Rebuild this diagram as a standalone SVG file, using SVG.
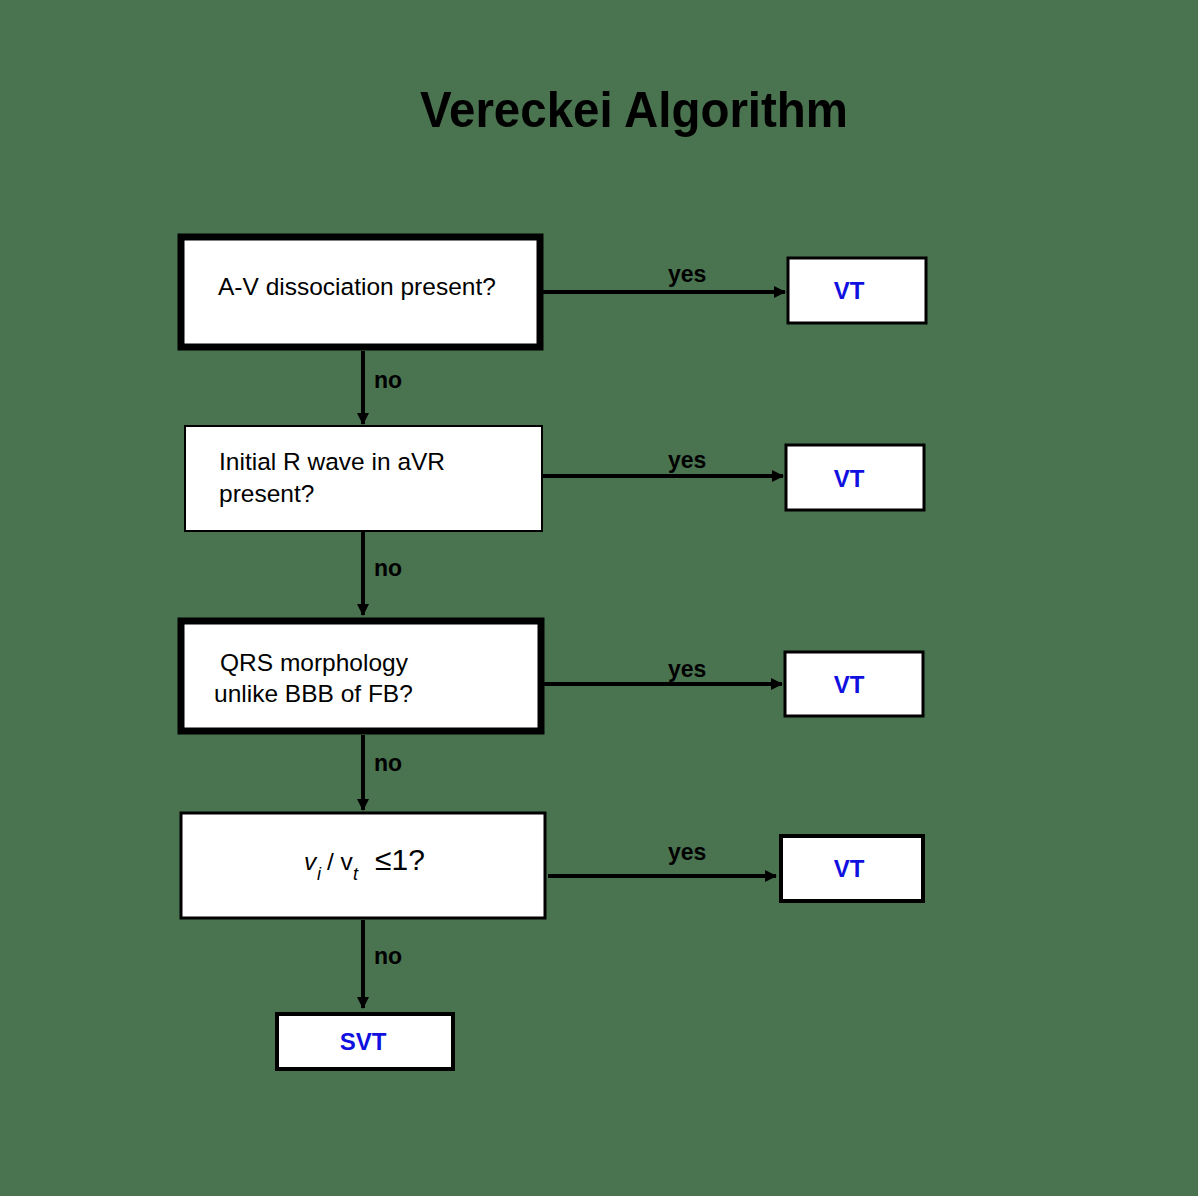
<svg xmlns="http://www.w3.org/2000/svg" width="1198" height="1196" viewBox="0 0 1198 1196">
<defs>
<marker id="ah" markerWidth="12" markerHeight="12" refX="11" refY="6" orient="auto" markerUnits="userSpaceOnUse">
<path d="M0,0 L12,6 L0,12 Z" fill="#000"/>
</marker>
<style>
.q{font-family:"Liberation Sans",Arial,sans-serif;font-size:24.5px;fill:#000}
.vt{font-family:"Liberation Sans",Arial,sans-serif;font-size:24px;font-weight:bold;fill:#1010e0;text-anchor:middle}
.lbl{font-family:"Liberation Sans",Arial,sans-serif;font-size:23px;font-weight:bold;fill:#000}
.box{fill:#fff;stroke:#000}
.c{stroke:#000;stroke-width:4;fill:none}
</style>
</defs>
<rect width="1198" height="1196" fill="#4a7350"/>
<text x="420" y="127" font-family="Liberation Sans,Arial,sans-serif" font-size="50" font-weight="bold" textLength="428" lengthAdjust="spacingAndGlyphs">Vereckei Algorithm</text>
<g id="connectors">
<line class="c" x1="543" y1="292" x2="785" y2="292" marker-end="url(#ah)"/>
<line class="c" x1="543" y1="476" x2="783" y2="476" marker-end="url(#ah)"/>
<line class="c" x1="543" y1="684" x2="782" y2="684" marker-end="url(#ah)"/>
<line class="c" x1="548" y1="876" x2="776" y2="876" marker-end="url(#ah)"/>
<line class="c" x1="363" y1="351" x2="363" y2="424" marker-end="url(#ah)"/>
<line class="c" x1="363" y1="532" x2="363" y2="615" marker-end="url(#ah)"/>
<line class="c" x1="363" y1="735" x2="363" y2="810" marker-end="url(#ah)"/>
<line class="c" x1="363" y1="920" x2="363" y2="1008" marker-end="url(#ah)"/>
<text class="lbl" x="668" y="282">yes</text>
<text class="lbl" x="668" y="468">yes</text>
<text class="lbl" x="668" y="677">yes</text>
<text class="lbl" x="668" y="860">yes</text>
<text class="lbl" x="374" y="388">no</text>
<text class="lbl" x="374" y="576">no</text>
<text class="lbl" x="374" y="771">no</text>
<text class="lbl" x="374" y="964">no</text>
</g>
<g id="q1">
<rect class="box" x="181" y="237" width="359" height="110" stroke-width="7"/>
<text class="q" x="218" y="295">A-V dissociation present?</text>
</g>
<g id="q2">
<rect class="box" x="185" y="426" width="357" height="105" stroke-width="2"/>
<text class="q" x="219" y="470">Initial R wave in aVR</text>
<text class="q" x="219" y="502">present?</text>
</g>
<g id="q3">
<rect class="box" x="181" y="621" width="360" height="110" stroke-width="7"/>
<text class="q" x="220" y="671">QRS morphology</text>
<text class="q" x="214" y="702">unlike BBB of FB?</text>
</g>
<g id="q4">
<rect class="box" x="181" y="813" width="364" height="105" stroke-width="3"/>
<text class="q" y="870" font-size="28"><tspan x="304" font-style="italic">v</tspan><tspan x="317" font-style="italic" font-size="18" dy="10">i</tspan><tspan x="327" dy="-10">/ v</tspan><tspan x="353" font-style="italic" font-size="18" dy="10">t</tspan><tspan x="375" dy="-10" font-size="30">≤1?</tspan></text>
</g>
<g id="vt1">
<rect class="box" x="788" y="258" width="138" height="65" stroke-width="3"/>
<text class="vt" x="849" y="299">VT</text>
</g>
<g id="vt2">
<rect class="box" x="786" y="445" width="138" height="65" stroke-width="3"/>
<text class="vt" x="849" y="487">VT</text>
</g>
<g id="vt3">
<rect class="box" x="785" y="652" width="138" height="64" stroke-width="3"/>
<text class="vt" x="849" y="693">VT</text>
</g>
<g id="vt4">
<rect class="box" x="781" y="836" width="142" height="65" stroke-width="4"/>
<text class="vt" x="849" y="877">VT</text>
</g>
<g id="svt">
<rect class="box" x="277" y="1014" width="176" height="55" stroke-width="4"/>
<text class="vt" x="363" y="1050">SVT</text>
</g>
</svg>
